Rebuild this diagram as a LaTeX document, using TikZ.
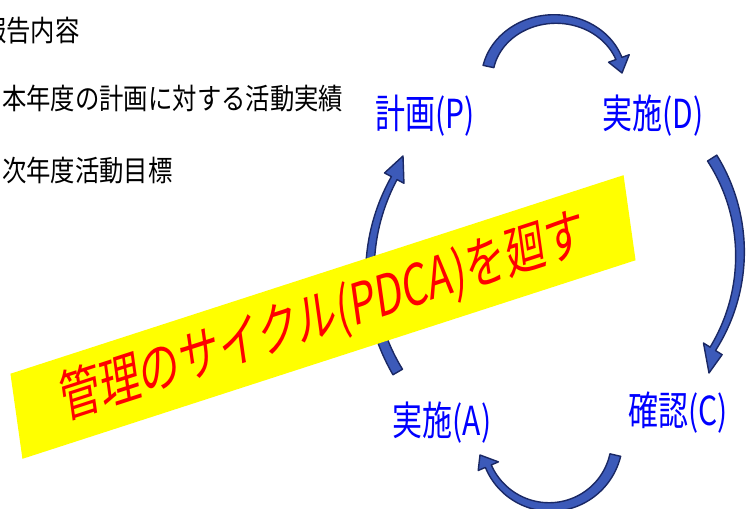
\documentclass[tikz,border=0pt]{standalone}
\usepackage{fontspec}
\newfontfamily\jpblack[FakeStretch=0.84]{Noto Sans CJK JP}
\newfontfamily\jpblue[FakeStretch=0.75]{Noto Sans CJK JP}
\newfontfamily\jpred[FakeStretch=1.08]{Noto Sans CJK JP}
\definecolor{arrfill}{RGB}{60,90,185}
\definecolor{arrline}{RGB}{26,40,100}
\definecolor{banyellow}{RGB}{255,255,0}
\definecolor{labblue}{RGB}{0,0,255}
\definecolor{banred}{RGB}{255,0,0}
\newcommand\awt{5.5}% half width at the tail
\newcommand\awh{3.2}% half width next to the head
\newcommand\ah{11}% half width of the head
% #1 centre, #2 x radius, #3 y radius, #4 tail angle, #5 head-base angle, #6 tip (relative)
\newcommand\pdcaarrow[6]{%
  \begin{scope}[shift={(#1)}]
    \filldraw[cyclearrow]
      plot[domain={#4}:{#5}, samples=60, variable=\t]
        ({(#2+\awt+(\awh-\awt)*(\t-(#4))/((#5)-(#4)))*cos(\t)},
         {(#3+\awt+(\awh-\awt)*(\t-(#4))/((#5)-(#4)))*sin(\t)})
      -- ({#5}:{#2+\ah} and {#3+\ah}) -- #6
      -- ({#5}:{#2-\ah} and {#3-\ah})
      -- plot[domain={#5}:{#4}, samples=60, variable=\t]
        ({(#2-\awt-(\awh-\awt)*(\t-(#4))/((#5)-(#4)))*cos(\t)},
         {(#3-\awt-(\awh-\awt)*(\t-(#4))/((#5)-(#4)))*sin(\t)})
      -- cycle;
  \end{scope}}
\begin{document}
\begin{tikzpicture}[x=1pt,y=1pt,
  cyclearrow/.style={fill=arrfill, draw=arrline, line width=1.4pt, line join=round},
  listtext/.style={anchor=west, inner sep=0pt, font=\jpblack\fontsize{29}{30}\selectfont, text=black},
  stagelabel/.style={inner sep=0pt, font=\jpblue\fontsize{40}{42}\selectfont, text=labblue},
  banner/.style={fill=banyellow, inner sep=0pt, minimum width=950pt, minimum height=87pt,
    font=\jpred\fontsize{57}{59}\selectfont, text=banred}]
\clip (0,0) rectangle (753,509);
\fill[white] (0,0) rectangle (753,509);

% list of report items
\node[listtext] (item1) at (-18,478) {報告内容};
\node[listtext] (item2) at (2,411) {本年度の計画に対する活動実績};
\node[listtext] (item3) at (2,339) {次年度活動目標};

% stage labels
\node[stagelabel] (plan)  at (425,393) {計画(P)};
\node[stagelabel] (do)    at (653,393) {実施(D)};
\node[stagelabel] (check) at (678,96)  {確認(C)};
\node[stagelabel] (act)   at (442,86)  {実施(A)};

% centres of the curved arrows
\coordinate (cPD) at (555,430);
\coordinate (cDC) at (561,255);
\coordinate (cCA) at (550,69);
\coordinate (cAP) at (577,237);

\pdcaarrow{cPD}{68}{60}{168}{20}{(67,6)}
\pdcaarrow{cDC}{179}{179}{32.4}{-32}{(148,-119)}
\pdcaarrow{cCA}{67}{67}{-13}{-157}{(-70,-15)}
\pdcaarrow{cAP}{207}{200}{210}{152}{(-174,116)}

% banner
\node[banner, cm={0.6454,0.2090,-0.1379,0.9779,(0,0)}] (ban) at (323,192) {管理のサイクル(PDCA)を廻す};
\end{tikzpicture}
\end{document}
